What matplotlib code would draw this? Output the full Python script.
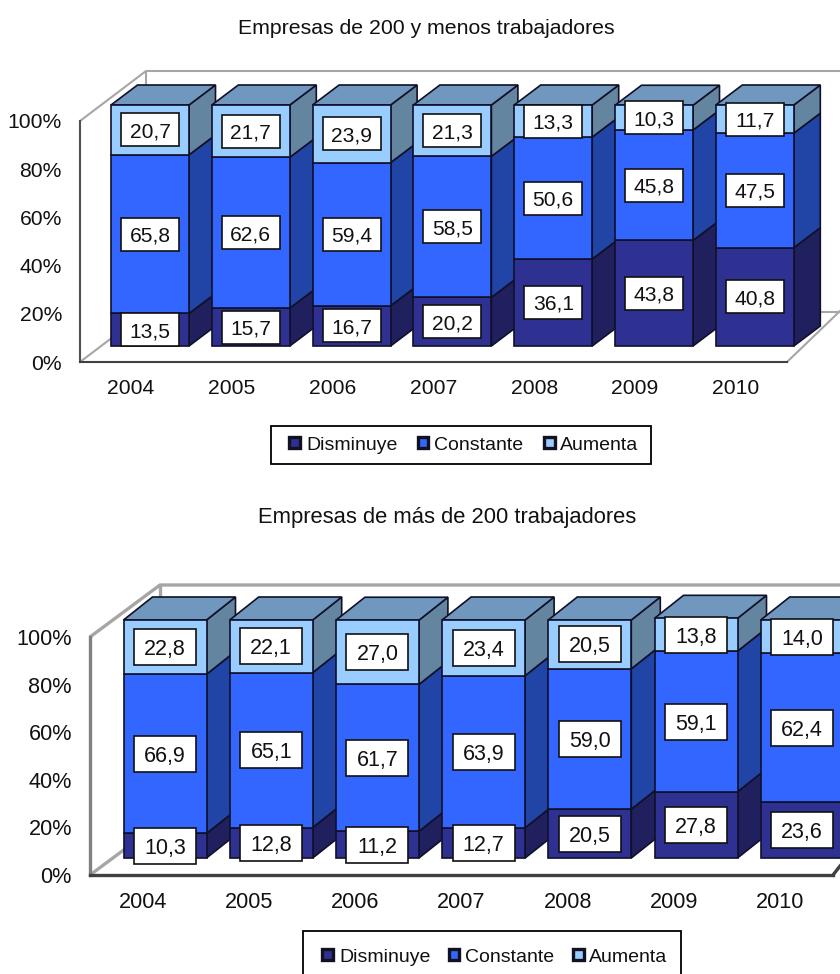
import matplotlib
matplotlib.use("Agg")
import matplotlib.pyplot as plt
from matplotlib.patches import Polygon, Patch, Rectangle

plt.rcParams['font.family'] = ['Liberation Sans', 'DejaVu Sans']

years = ['2004', '2005', '2006', '2007', '2008', '2009', '2010']
series = ['Disminuye', 'Constante', 'Aumenta']

small_dis = [13.5, 15.7, 16.7, 20.2, 36.1, 43.8, 40.8]
small_con = [65.8, 62.6, 59.4, 58.5, 50.6, 45.8, 47.5]
small_aum = [20.7, 21.7, 23.9, 21.3, 13.3, 10.3, 11.7]

large_dis = [10.3, 12.8, 11.2, 12.7, 20.5, 27.8, 23.6]
large_con = [66.9, 65.1, 61.7, 63.9, 59.0, 59.1, 62.4]
large_aum = [22.8, 22.1, 27.0, 23.4, 20.5, 13.8, 14.0]

front_colors = ['#2E3192', '#3366FF', '#99CCFF']
side_colors = ['#20205F', '#2145A6', '#64859F']
top_color = '#7098BE'
EDGE = '#10102A'

W, H = 840, 974
fig = plt.figure(figsize=(W / 100, H / 100), dpi=100)
fig.patch.set_facecolor('white')


def chart(title, title_pos, title_fs, values, left, y0, y100, first, step, bar_w,
          base_dx, base_dy, depth_dx, depth_dy, wall_dx, wall_dy, floor_end,
          back_right_y, wall_lw, left_color, right_color, tick_fs, label_fs,
          box_w, box_h, legend_rect, legend_center, colspace):
    ax = fig.add_axes([left / W, 1 - y0 / H, (W - left) / W, (y0 - y100) / H])
    ux = 1 / step                 # data units per pixel, x
    uy = 100 / (y0 - y100)        # data units per pixel, y
    ax.set_xlim((left - first) * ux, (W - first) * ux)
    ax.set_ylim(0, 100)
    ax.patch.set_alpha(0)

    # 3D walls
    wx, wy = wall_dx * ux, wall_dy * uy
    xl, xr = ax.get_xlim()
    xe = (floor_end - first) * ux
    grey = '#A6A6A6'
    wall = dict(color=grey, lw=wall_lw, clip_on=False, zorder=1, solid_capstyle='butt')
    ax.plot([xl, xl + wx, xr], [100, 100 + wy, 100 + wy], **wall)
    ax.plot([xl + wx, xl + wx, xr], [100 + wy, wy, wy], **wall)
    ax.plot([xl, xl + wx], [0, wy], **wall)
    ax.plot([xe, xr], [0, back_right_y * uy], color=right_color, lw=wall_lw,
            clip_on=False, zorder=1)

    for s in ['top', 'right']:
        ax.spines[s].set_visible(False)
    ax.spines['left'].set_color(left_color)
    ax.spines['bottom'].set_color('#404040')
    for s in ['left', 'bottom']:
        ax.spines[s].set_linewidth(wall_lw)
        ax.spines[s].set_zorder(2)
    ax.spines['bottom'].set_bounds(xl, xe)

    ax.set_xticks(range(len(years)), years)
    ax.set_yticks([0, 20, 40, 60, 80, 100], ['0%', '20%', '40%', '60%', '80%', '100%'])
    ax.tick_params(axis='both', length=0, labelsize=tick_fs, labelcolor='#111111')
    ax.tick_params(axis='y', pad=13)
    ax.tick_params(axis='x', pad=12)

    ox, oy = base_dx * ux, base_dy * uy
    dx, dy = depth_dx * ux, depth_dy * uy
    w = bar_w * ux
    bw, bh = box_w * ux, box_h * uy
    for i in range(len(years)):
        z = 3 + i
        cum = 0
        x0 = i + ox - w / 2
        x1 = i + ox + w / 2
        for k, vals in enumerate(values):
            v = vals[i]
            ax.bar(x0, v, w, bottom=oy + cum, align='edge', color=front_colors[k],
                   edgecolor=EDGE, linewidth=1.2, zorder=z + 0.2, clip_on=False)
            ax.add_patch(Polygon([(x1, oy + cum), (x1 + dx, oy + cum + dy),
                                  (x1 + dx, oy + cum + v + dy), (x1, oy + cum + v)],
                                 closed=True, facecolor=side_colors[k], edgecolor=EDGE,
                                 linewidth=1.2, zorder=z + 0.1, clip_on=False))
            cy = oy + cum + v / 2
            ax.add_patch(Rectangle((i + ox - bw / 2, cy - bh / 2), bw, bh, facecolor='white',
                                   edgecolor='#111111', linewidth=1.2, zorder=30, clip_on=False))
            ax.text(i + ox, cy, f'{v:.1f}'.replace('.', ','), ha='center', va='center_baseline',
                    fontsize=label_fs, color='#111111', zorder=31, clip_on=False)
            cum += v
        ax.add_patch(Polygon([(x0, oy + cum), (x1, oy + cum), (x1 + dx, oy + cum + dy),
                              (x0 + dx, oy + cum + dy)], closed=True, facecolor=top_color,
                             edgecolor=EDGE, linewidth=1.2, zorder=z + 0.15, clip_on=False))

    fig.text(title_pos[0] / W, 1 - title_pos[1] / H, title, ha='center', va='center',
             fontsize=title_fs, color='#111111')

    lx0, ly0, lx1, ly1 = legend_rect
    fig.add_artist(Rectangle((lx0 / W, 1 - ly1 / H), (lx1 - lx0) / W, (ly1 - ly0) / H,
                             transform=fig.transFigure, facecolor='white',
                             edgecolor='black', linewidth=1.3))
    handles = [Patch(facecolor=c, edgecolor='#111122', linewidth=2.4, label=n)
               for c, n in zip(front_colors, series)]
    fig.legend(handles=handles, loc='center', ncol=3,
               bbox_to_anchor=(legend_center[0] / W, 1 - legend_center[1] / H),
               frameon=False, fontsize=14, labelcolor='#111111',
               handlelength=0.55, handleheight=0.55, handletextpad=0.3,
               columnspacing=colspace, borderpad=0, borderaxespad=0)


chart('Empresas de 200 y menos trabajadores', (426, 29), 15.3,
      [small_dis, small_con, small_aum],
      left=80, y0=362, y100=121, first=131, step=100.8, bar_w=78,
      base_dx=19, base_dy=16, depth_dx=26.5, depth_dy=20,
      wall_dx=66, wall_dy=50, floor_end=787, back_right_y=51, wall_lw=1.5,
      left_color='#505050', right_color='#A6A6A6', tick_fs=15.2, label_fs=15.1,
      box_w=58, box_h=33, legend_rect=(271, 426, 651, 464),
      legend_center=(464, 445), colspace=1.05)

chart('Empresas de más de 200 trabajadores', (447, 518), 15.8,
      [large_dis, large_con, large_aum],
      left=90, y0=875, y100=637, first=143, step=106.2, bar_w=83,
      base_dx=22, base_dy=17, depth_dx=29, depth_dy=23,
      wall_dx=70, wall_dy=52, floor_end=833, back_right_y=9, wall_lw=2.4,
      left_color='#808080', right_color='#404040', tick_fs=15.6, label_fs=15.5,
      box_w=62, box_h=36, legend_rect=(303, 931, 681, 985),
      legend_center=(495, 957), colspace=0.95)

fig.savefig('out.png', dpi=100)
